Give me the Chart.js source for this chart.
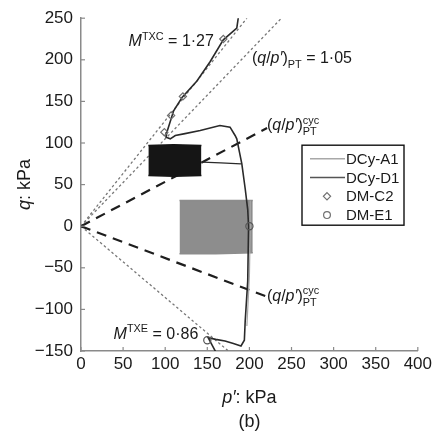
<!DOCTYPE html>
<html>
<head>
<meta charset="utf-8">
<script src="https://cdn.jsdelivr.net/npm/chart.js@4.4.0/dist/chart.umd.min.js"></script>
<style>
  html, body { margin: 0; padding: 0; background: #fff; }
  #wrap { width: 435px; height: 432px; }
</style>
</head>
<body>
<div id="wrap"><canvas id="chart"></canvas></div>
<script>
// ---- data (p' and q in kPa) ----
const xTicks = [0, 50, 100, 150, 200, 250, 300, 350, 400];
const yTicks = [-150, -100, -50, 0, 50, 100, 150, 200, 250];

// DCy-A1: cyclic block around q = 0 (outline of the cloud) and trailing line
const a1BlockP = [117, 160, 204];
const a1BlockTop = [31, 31, 31];
const a1BlockBottom = [-33, -33, -32];
const a1LineP = [201, 201, 200, 197];
const a1LineQ = [31, 0, -60, -120];

// DCy-D1: cyclic block around q = 75, link line and stress path
const d1BlockP = [80, 110, 143];
const d1BlockTop = [97, 98, 97];
const d1BlockBottom = [61, 60, 61];
const d1LinkP = [144, 166, 190];
const d1LinkQ = [77, 76, 75];
const d1PathP = [187, 185, 169, 153.5, 137.7, 120, 110, 102, 101, 106, 112, 122, 141.6, 165, 177, 183, 185, 188, 191, 195, 198, 199, 198, 195, 194, 190, 181, 171, 160, 151, 161];
const d1PathQ = [252, 238, 224, 198, 174.5, 154.6, 138.8, 113, 107, 105, 109, 111, 115, 121, 119, 109, 105, 90, 75, 45, 20, 0, -66, -114, -137, -144, -141, -138, -136, -134, -153];

// markers
const c2P = [99, 107, 121, 169];
const c2Q = [113, 133, 156, 225];
const e1P = [200, 150];
const e1Q = [0, -137];

// reference lines through origin (end points)
const mTxcP = [0, 197], mTxcQ = [0, 250];
const ptP = [0, 238], ptQ = [0, 250];
const mTxeP = [0, 175], mTxeQ = [0, -150];
const cycUpP = [0, 221], cycUpQ = [0, 118];
const cycLoP = [0, 219], cycLoQ = [0, -84];

const FONT = '"Liberation Sans", Arial, sans-serif';
const pts = (xs, ys) => xs.map((x, i) => ({ x: x, y: ys[i] }));

function lineSet(label, xs, ys, color, width, dash, order) {
  return {
    label: label, data: pts(xs, ys), borderColor: color, borderWidth: width,
    borderDash: dash || [], pointRadius: 0, fill: false, order: order, tension: 0
  };
}

const datasets = [
  lineSet('ref1', mTxcP, mTxcQ, '#777', 1.3, [2.5, 2.5], 10),
  lineSet('ref2', ptP, ptQ, '#777', 1.3, [2.5, 2.5], 10),
  lineSet('ref3', mTxeP, mTxeQ, '#777', 1.3, [2.5, 2.5], 10),
  lineSet('cyc1', cycUpP, cycUpQ, '#1e1e1e', 2.2, [10, 7], 9),
  lineSet('cyc2', cycLoP, cycLoQ, '#1e1e1e', 2.2, [10, 7], 9),
  { label: 'a1top', data: pts(a1BlockP, a1BlockTop), borderColor: '#8d8d8d', borderWidth: 1.5,
    backgroundColor: '#8d8d8d', fill: '+1', pointRadius: 0, order: 8 },
  { label: 'a1bot', data: pts(a1BlockP, a1BlockBottom), borderColor: '#8d8d8d', borderWidth: 1.5,
    fill: false, pointRadius: 0, order: 8 },
  { label: 'd1top', data: pts(d1BlockP, d1BlockTop), borderColor: '#151515', borderWidth: 1.5,
    backgroundColor: '#151515', fill: '+1', pointRadius: 0, order: 7 },
  { label: 'd1bot', data: pts(d1BlockP, d1BlockBottom), borderColor: '#151515', borderWidth: 1.5,
    fill: false, pointRadius: 0, order: 7 },
  lineSet('DCy-A1', a1LineP, a1LineQ, '#a8a8a8', 1.2, null, 6),
  lineSet('link', d1LinkP, d1LinkQ, '#2a2a2a', 1.3, null, 5),
  lineSet('DCy-D1', d1PathP, d1PathQ, '#2a2a2a', 1.6, null, 4),
  { label: 'DM-C2', data: pts(c2P, c2Q), showLine: false, pointStyle: 'rectRot', pointRadius: 3.6,
    pointBorderColor: '#707070', pointBackgroundColor: 'rgba(0,0,0,0)', pointBorderWidth: 1.2, order: 2 },
  { label: 'DM-E1', data: pts(e1P, e1Q), showLine: false, pointStyle: 'circle', pointRadius: 3.6,
    pointBorderColor: '#555', pointBackgroundColor: 'rgba(0,0,0,0)', pointBorderWidth: 1.2, order: 1 }
];

function rich(ctx, x, y, parts, size) {
  let cx = x, held = 0;
  parts.forEach(p => {
    const s = (p.sup || p.sub) ? size * 0.68 : size;
    ctx.font = (p.it ? 'italic ' : '') + s + 'px ' + FONT;
    const dy = p.sup ? -size * 0.42 : (p.sub ? size * 0.3 : 0);
    ctx.fillText(p.t, cx, y + dy);
    const w = ctx.measureText(p.t).width;
    if (p.keep) { held = w; } else { cx += Math.max(w, held); held = 0; }
  });
  return cx - x;
}

const qp = [{ t: '(' }, { t: 'q', it: 1 }, { t: '/' }, { t: 'p′', it: 1 }, { t: ')' }];
const notes = [
  { p: 56.5, q: 216.3, parts: [{ t: 'M', it: 1 }, { t: 'TXC', sup: 1 }, { t: ' = 1·27' }] },
  { p: 203, q: 196.4, parts: qp.concat([{ t: 'PT', sub: 1 }, { t: ' = 1·05' }]) },
  { p: 220.8, q: 115.3, parts: qp.concat([{ t: 'cyc', sup: 1, keep: 1 }, { t: 'PT', sub: 1 }]) },
  { p: 220.8, q: -89.7, parts: qp.concat([{ t: 'cyc', sup: 1, keep: 1 }, { t: 'PT', sub: 1 }]) },
  { p: 38.7, q: -135.3, parts: [{ t: 'M', it: 1 }, { t: 'TXE', sup: 1 }, { t: ' = 0·86' }] }
];

const decor = {
  id: 'decor',
  afterDatasetsDraw(chart) {
    const { ctx, chartArea: a, scales: { x, y } } = chart;
    ctx.save();
    // inward tick marks
    ctx.strokeStyle = '#8a8a8a';
    ctx.lineWidth = 1.2;
    xTicks.forEach(v => {
      const px = x.getPixelForValue(v);
      ctx.beginPath(); ctx.moveTo(px, a.bottom); ctx.lineTo(px, a.bottom - 4); ctx.stroke();
    });
    yTicks.forEach(v => {
      const py = y.getPixelForValue(v);
      ctx.beginPath(); ctx.moveTo(a.left, py); ctx.lineTo(a.left + 4, py); ctx.stroke();
    });

    // annotations
    ctx.fillStyle = '#1a1a1a';
    ctx.textBaseline = 'alphabetic';
    ctx.textAlign = 'left';
    notes.forEach(n => {
      const px = x.getPixelForValue(n.p), py = y.getPixelForValue(n.q);
      rich(ctx, px, py, n.parts, 16);
    });

    // legend
    const lx = a.left + 221, ly = a.top + 127, lw = 102, lh = 80;
    ctx.fillStyle = '#fff';
    ctx.fillRect(lx, ly, lw, lh);
    ctx.strokeStyle = '#111';
    ctx.lineWidth = 1.4;
    ctx.strokeRect(lx, ly, lw, lh);
    const rows = [
      { label: 'DCy-A1', kind: 'line', color: '#a8a8a8', w: 1.4 },
      { label: 'DCy-D1', kind: 'line', color: '#555', w: 1.6 },
      { label: 'DM-C2', kind: 'diamond', color: '#707070' },
      { label: 'DM-E1', kind: 'circle', color: '#707070' }
    ];
    ctx.font = '15px ' + FONT;
    ctx.textBaseline = 'middle';
    rows.forEach((r, i) => {
      const ry = ly + 13.5 + i * 18.8;
      ctx.strokeStyle = r.color;
      ctx.lineWidth = r.w || 1.2;
      if (r.kind === 'line') {
        ctx.beginPath(); ctx.moveTo(lx + 8, ry); ctx.lineTo(lx + 43, ry); ctx.stroke();
      } else if (r.kind === 'diamond') {
        const cx = lx + 25, d = 3.6;
        ctx.beginPath(); ctx.moveTo(cx, ry - d); ctx.lineTo(cx + d, ry); ctx.lineTo(cx, ry + d);
        ctx.lineTo(cx - d, ry); ctx.closePath(); ctx.stroke();
      } else {
        ctx.beginPath(); ctx.arc(lx + 25, ry, 3.4, 0, Math.PI * 2); ctx.stroke();
      }
      ctx.fillStyle = '#1a1a1a';
      ctx.fillText(r.label, lx + 44, ry + 1);
    });

    // axis titles and panel label
    ctx.textBaseline = 'alphabetic';
    ctx.fillStyle = '#1a1a1a';
    const cxm = (a.left + a.right) / 2;
    ctx.font = 'italic 18px ' + FONT;
    let w1 = ctx.measureText('p′').width;
    ctx.font = '18px ' + FONT;
    let w2 = ctx.measureText(': kPa').width;
    rich(ctx, cxm - (w1 + w2) / 2, 403, [{ t: 'p′', it: 1 }, { t: ': kPa' }], 18);
    ctx.font = '18px ' + FONT;
    ctx.textAlign = 'center';
    ctx.fillText('(b)', cxm, 427);
    ctx.textAlign = 'left';

    ctx.translate(30, (a.top + a.bottom) / 2);
    ctx.rotate(-Math.PI / 2);
    ctx.font = 'italic 18px ' + FONT;
    w1 = ctx.measureText('q').width;
    ctx.font = '18px ' + FONT;
    w2 = ctx.measureText(': kPa').width;
    rich(ctx, -(w1 + w2) / 2, 0, [{ t: 'q', it: 1 }, { t: ': kPa' }], 18);
    ctx.restore();
  }
};

new Chart(document.getElementById('chart'), {
  type: 'line',
  data: { datasets: datasets },
  options: {
    responsive: true,
    maintainAspectRatio: false,
    animation: false,
    layout: { padding: { top: 15, right: 17, left: 0, bottom: 0 } },
    plugins: { legend: { display: false }, tooltip: { enabled: false } },
    scales: {
      x: {
        type: 'linear', min: 0, max: 400,
        afterFit: s => { s.height = 81; },
        afterBuildTicks: s => { s.ticks = xTicks.map(v => ({ value: v })); },
        grid: { display: false, drawTicks: false },
        border: { display: true, color: '#8a8a8a', width: 1.5 },
        ticks: { color: '#1a1a1a', padding: 3, maxRotation: 0, autoSkip: false,
                 font: { family: FONT, size: 17 } }
      },
      y: {
        type: 'linear', min: -150, max: 250,
        afterFit: s => { s.width = 81; },
        afterBuildTicks: s => { s.ticks = yTicks.map(v => ({ value: v })); },
        grid: { display: false, drawTicks: false },
        border: { display: true, color: '#8a8a8a', width: 1.5 },
        ticks: { color: '#1a1a1a', padding: 8, autoSkip: false,
                 font: { family: FONT, size: 17 },
                 callback: v => String(v).replace('-', '\u2212') }
      }
    }
  },
  plugins: [decor]
});
</script>
</body>
</html>
